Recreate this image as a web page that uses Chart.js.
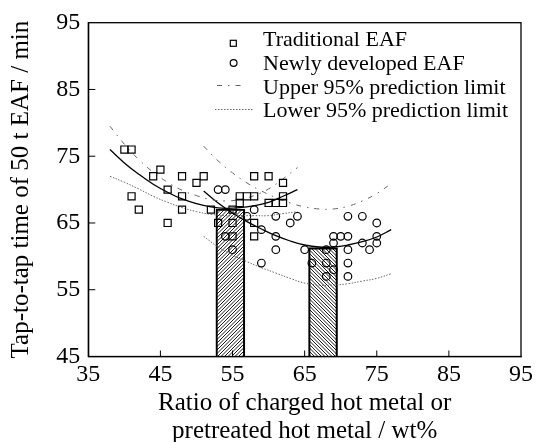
<!DOCTYPE html>
<html><head><meta charset="utf-8">
<script src="https://cdn.jsdelivr.net/npm/chart.js@4/dist/chart.umd.min.js"></script>
<style>html,body{margin:0;padding:0;background:#fff;}#wrap{width:537px;height:442px;}</style>
</head><body><div id="wrap"><canvas id="c" width="537" height="442"></canvas></div>
<script>
// ---- data ----
const xTicks = [35, 45, 55, 65, 75, 85, 95];
const yTicks = [45, 55, 65, 75, 85, 95];

const tradX = [40,41,41,42,44,45,46,46,48,48,48,50,51,52,53,55,55,55,56,57,58,56,58,60,62,62,60,61,62,58,58];
const tradY = [76,76,69,67,72,73,70,65,72,69,67,71,72,67,65,67,65,63,69,69,69,68,72,72,71,69,68,68,68,65,63];

const newX = [53,54,54,55,57,58,59,59,61,61,61,63,64,65,66,68,68,68,69,69,70,71,69,71,73,75,71,71,71,73,74,75,75];
const newY = [70,70,63,61,66,67,64,59,66,63,61,65,66,61,59,61,59,57,58,63,63,63,62,66,66,65,61,59,57,62,61,63,62];

const barX = [54.7, 67.55];
const barY = [67.1, 61.3];

const fitTradX   = [38,40,42,44,46,48,50,52,54,56,58,60,62,64];
const fitTradY   = [76.0,74.0,72.3,70.8,69.6,68.6,67.9,67.4,67.2,67.3,67.6,68.1,69.0,70.0];
const upperTradY = [79.5,76.8,74.5,72.6,71.1,69.9,69.1,68.5,68.3,68.5,69.1,70.1,71.6,73.3];
const lowerTradY = [72.0,71.1,70.1,69.0,68.1,67.3,66.7,66.3,66.1,66.1,66.1,66.1,66.4,66.7];

const fitNewX   = [51,53,55,57,59,61,63,65,67,69,71,73,75,77];
const fitNewY   = [69.8,68.0,66.5,65.2,64.1,63.1,62.3,61.7,61.4,61.4,61.7,62.2,62.9,64.0];
const upperNewY = [76.5,74.3,72.5,71.0,69.8,68.8,68.0,67.4,67.1,67.1,67.5,68.3,69.4,70.9];
const lowerNewY = [63.0,61.4,60.2,59.2,58.3,57.5,56.7,56.0,55.7,55.7,55.9,56.3,56.7,57.4];

const legendLabels = ['Traditional EAF', 'Newly developed EAF', 'Upper 95% prediction limit', 'Lower 95% prediction limit'];
const xTitle = ['Ratio of charged hot metal or', 'pretreated hot metal / wt%'];
const yTitle = 'Tap-to-tap time of 50 t EAF / min';

// ---- helpers ----
const pts = (xs, ys) => xs.map((x, i) => ({x: x, y: ys[i]}));
const FONT = '"Liberation Serif", "Times New Roman", serif';

function hatch(dir) {
  const s = 7, c = document.createElement('canvas');
  c.width = s; c.height = s;
  const g = c.getContext('2d');
  g.strokeStyle = '#000'; g.lineWidth = 0.9;
  for (let k = -6; k <= 6; k++) {
    const o = k * 3.5;
    g.beginPath();
    if (dir > 0) { g.moveTo(o + 1, -1); g.lineTo(o - s - 1, s + 1); }
    else { g.moveTo(o - 1, -1); g.lineTo(o + s + 1, s + 1); }
    g.stroke();
  }
  return g.createPattern(c, 'repeat');
}

const UPPER_DASH = [5, 6, 1.5, 6];
const LOWER_DASH = [1.5, 1.5];
const LIMIT_COLOR = '#666';

const lineDs = (xs, ys, color, width, dash) => ({
  type: 'line', data: pts(xs, ys), borderColor: color, borderWidth: width,
  borderDash: dash, pointRadius: 0, tension: 0.4, fill: false, order: 1
});

const framePlugin = {
  id: 'frame',
  afterDatasetsDraw(chart) {
    const {ctx, chartArea: a, scales: {x, y}} = chart;
    ctx.save();
    ctx.strokeStyle = '#000'; ctx.lineWidth = 1.3;
    ctx.strokeRect(a.left, a.top, a.right - a.left, a.bottom - a.top);
    ctx.lineWidth = 1;
    ctx.beginPath();
    xTicks.slice(1, -1).forEach(v => { const p = x.getPixelForValue(v); ctx.moveTo(p, a.bottom); ctx.lineTo(p, a.bottom - 6); });
    yTicks.slice(1, -1).forEach(v => { const p = y.getPixelForValue(v); ctx.moveTo(a.left, p); ctx.lineTo(a.left + 7, p); });
    ctx.stroke();
    ctx.restore();
  }
};

const legendPlugin = {
  id: 'innerLegend',
  afterDraw(chart) {
    const ctx = chart.ctx;
    ctx.save();
    ctx.fillStyle = '#000';
    ctx.font = '22px ' + FONT;
    ctx.textBaseline = 'alphabetic';
    ctx.textAlign = 'left';
    const tx = 263, base = [46, 70, 93.5, 117];
    legendLabels.forEach((t, i) => ctx.fillText(t, tx, base[i]));
    ctx.strokeStyle = '#000'; ctx.lineWidth = 1.2;
    ctx.strokeRect(230.3, 40.3, 6, 6);
    ctx.beginPath(); ctx.arc(233.6, 63, 3.4, 0, Math.PI * 2); ctx.stroke();
    ctx.strokeStyle = LIMIT_COLOR; ctx.lineWidth = 1;
    ctx.setLineDash(UPPER_DASH);
    ctx.beginPath(); ctx.moveTo(217, 85.5); ctx.lineTo(246, 85.5); ctx.stroke();
    ctx.setLineDash(LOWER_DASH);
    ctx.beginPath(); ctx.moveTo(215, 109.5); ctx.lineTo(253, 109.5); ctx.stroke();
    ctx.restore();
  }
};

new Chart(document.getElementById('c'), {
  type: 'scatter',
  data: {
    datasets: [
      { type: 'scatter', label: legendLabels[0], data: pts(tradX, tradY), pointStyle: 'rect',
        pointRadius: 5, borderColor: '#000', backgroundColor: 'rgba(0,0,0,0)', borderWidth: 1.2, order: 0 },
      { type: 'scatter', label: legendLabels[1], data: pts(newX, newY), pointStyle: 'circle',
        pointRadius: 3.8, borderColor: '#000', backgroundColor: 'rgba(0,0,0,0)', borderWidth: 1.2, order: 0 },
      lineDs(fitTradX, fitTradY, '#000', 1.3, []),
      lineDs(fitTradX, upperTradY, LIMIT_COLOR, 1, UPPER_DASH),
      lineDs(fitTradX, lowerTradY, LIMIT_COLOR, 1, LOWER_DASH),
      lineDs(fitNewX, fitNewY, '#000', 1.3, []),
      lineDs(fitNewX, upperNewY, LIMIT_COLOR, 1, UPPER_DASH),
      lineDs(fitNewX, lowerNewY, LIMIT_COLOR, 1, LOWER_DASH),
      { type: 'bar', data: pts(barX, barY), backgroundColor: [hatch(1), hatch(-1)],
        borderColor: '#000', borderWidth: 1.5, borderSkipped: false, barThickness: 29, order: 3 }
    ]
  },
  options: {
    responsive: false, animation: false, devicePixelRatio: 1,
    layout: { padding: { left: 0, right: 11.3, top: 22.7, bottom: 0 } },
    plugins: { legend: { display: false }, tooltip: { enabled: false } },
    scales: {
      x: {
        type: 'linear', min: 35, max: 95, offset: false,
        afterBuildTicks: s => { s.ticks = xTicks.map(v => ({value: v})); },
        afterFit: s => { s.height = 85.5; },
        ticks: { font: { family: FONT, size: 24 }, color: '#000', padding: 4, maxRotation: 0, autoSkip: false },
        grid: { drawOnChartArea: false, drawTicks: false, offset: false },
        border: { display: true, color: '#000', width: 1.3 },
        title: { display: true, text: xTitle, color: '#000', font: { family: FONT, size: 25, lineHeight: 1.1 }, padding: { top: 0, bottom: -3 } }
      },
      y: {
        type: 'linear', min: 45, max: 95, beginAtZero: false,
        afterBuildTicks: s => { s.ticks = yTicks.map(v => ({value: v})); },
        afterFit: s => { s.width = 88.3; },
        ticks: { font: { family: FONT, size: 24 }, color: '#000', padding: 8, autoSkip: false },
        grid: { drawOnChartArea: false, drawTicks: false },
        border: { display: true, color: '#000', width: 1.3 },
        title: { display: true, text: yTitle, color: '#000', font: { family: FONT, size: 25, lineHeight: 1.1 }, padding: { top: 7.75, bottom: 0 } }
      }
    }
  },
  plugins: [framePlugin, legendPlugin]
});
</script></body></html>
